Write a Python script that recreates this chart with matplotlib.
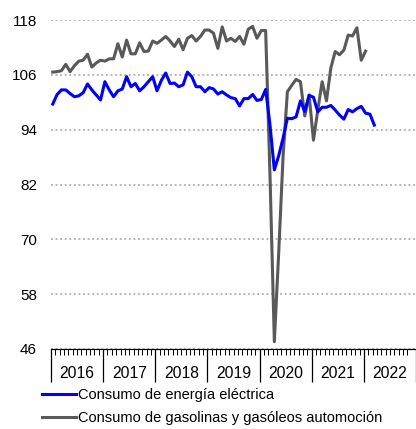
import numpy as np
import matplotlib.pyplot as plt
from matplotlib.transforms import blended_transform_factory

plt.rcParams['font.family'] = ['Liberation Sans', 'DejaVu Sans']

# monthly data, Jan 2016 onwards
years = ['2016', '2017', '2018', '2019', '2020', '2021', '2022']

electricidad = [
    99.6, 101.7, 102.7, 102.7, 101.9, 101.2, 101.4, 102.1, 104.0, 102.7, 101.6, 100.5,
    104.5, 102.7, 101.2, 102.5, 102.9, 105.6, 103.4, 104.1, 102.5, 103.4, 104.5, 105.6,
    102.5, 104.8, 106.4, 104.1, 104.2, 103.4, 103.8, 106.6, 105.6, 103.4, 103.4, 102.3,
    103.2, 102.9, 101.8, 102.3, 101.6, 101.0, 100.8, 99.2, 100.8, 100.8, 101.7, 100.4,
    100.6, 102.8, 95.0, 85.2, 88.3, 92.1, 96.5, 96.4, 96.8, 100.3, 98.0, 101.5,
    101.1, 97.9, 98.9, 98.9, 99.3, 98.3, 97.2, 96.3, 98.4, 97.9, 98.6, 99.1,
    97.6, 97.4, 95.0,
]

carburantes = [
    106.6, 106.7, 106.9, 108.3, 106.7, 108.0, 109.0, 109.2, 110.5, 107.7, 108.6, 109.2,
    109.0, 109.5, 109.5, 112.8, 109.9, 113.6, 110.6, 110.6, 113.0, 111.1, 111.2, 113.4,
    112.9, 113.6, 114.4, 113.4, 112.2, 113.8, 111.5, 114.0, 114.6, 113.4, 114.4, 115.8,
    115.8, 115.1, 111.8, 116.5, 113.4, 114.0, 113.3, 114.4, 112.7, 116.0, 116.6, 114.0,
    115.7, 115.7, 84.0, 47.6, 67.0, 88.0, 102.3, 103.7, 105.0, 104.5, 97.0, 101.6,
    91.7, 98.3, 104.5, 100.3, 107.5, 111.1, 110.4, 111.4, 114.7, 114.5, 116.3, 109.2,
    111.2,
]

fig = plt.figure(figsize=(4.16, 4.29), dpi=100)
ax = fig.add_axes([51 / 416, 80 / 429, 365 / 416, 329 / 429])

x_el = np.arange(len(electricidad)) + 0.4
x_ca = np.arange(len(carburantes)) + 0.4

ax.plot(x_el, electricidad, color='#0000FF', lw=2.2, solid_joinstyle='round',
        label='Consumo de energía eléctrica', zorder=3)
ax.plot(x_ca, carburantes, color='#595959', lw=2.2, solid_joinstyle='round',
        label='Consumo de gasolinas y gasóleos automoción', zorder=2)

ax.set_ylim(46, 118)
ax.set_yticks(np.arange(46, 119, 12))
ax.set_xlim(0, 82.1)

ax.grid(axis='y', color='#a0a0a0', linestyle=(0, (1.2, 1.8)), lw=1.1)
ax.set_axisbelow(True)

for s in ['top', 'right', 'left']:
    ax.spines[s].set_visible(False)
ax.spines['bottom'].set_linewidth(0.9)

ax.set_xticks(np.arange(0, 85, 12))
ax.set_xticks(np.arange(0, 83, 1), minor=True)
ax.set_xticklabels([])
ax.tick_params(axis='x', which='major', direction='out', length=24, width=0.9)
ax.tick_params(axis='x', which='minor', direction='out', length=4, width=0.7)
ax.tick_params(axis='y', length=0, pad=10, labelsize=11)

trans = blended_transform_factory(ax.transData, ax.transAxes)
for k, yr in enumerate(years):
    ax.text(12 * k + 6, -0.074, yr, transform=trans, ha='center', va='center',
            fontsize=11.3)

fig.legend(loc='upper left', bbox_to_anchor=(42 / 416, 1 - 388 / 429),
           frameon=False, fontsize=10.5, handlelength=2.3, handletextpad=0.14,
           labelspacing=0.6, borderaxespad=0, borderpad=0)

fig.savefig('out.png', dpi=100)
